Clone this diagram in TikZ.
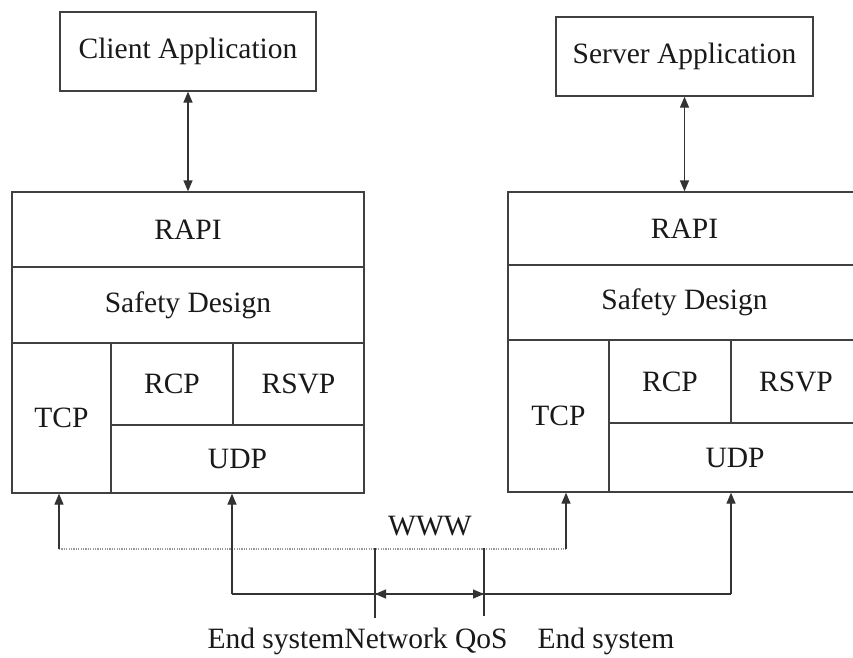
\documentclass[tikz,border=0pt]{standalone}
\usepackage{fontspec}
\setmainfont{Liberation Serif}
\usetikzlibrary{arrows.meta}
\begin{document}
\begin{tikzpicture}[x=1pt,y=-1pt,
  lbl/.style={font=\fontsize{29.5}{31}\selectfont, text=black!90},
  cell/.style={draw=black!75, line width=1.3pt, rectangle, inner sep=0pt, lbl},
  conn/.style={draw=black!80, line width=1.3pt},
  tip/.style={-{Triangle[length=11pt,width=9pt]}},
  dtip/.style={{Triangle[length=11pt,width=9pt]}-{Triangle[length=11pt,width=9pt]}},
  dots/.style={draw=black!40, line width=1.8pt, dash pattern=on 1.2pt off 1.2pt}]
\useasboundingbox (0,0) rectangle (853,657);
\fill[white] (0,0) rectangle (853,657);
\clip (0,0) rectangle (853,657);

% application boxes
\node[cell, minimum width=256pt, minimum height=79pt] (capp) at (188,51.5) {Client Application};
\node[cell, minimum width=257pt, minimum height=79pt] (sapp) at (684.5,56.5) {Server Application};

% left stack
\node[cell, minimum width=352pt, minimum height=75pt] (lrapi) at (188,229.5) {RAPI};
\node[cell, minimum width=352pt, minimum height=76pt] (lsafe) at (188,305) {Safety Design};
\node[cell, minimum width=99pt, minimum height=150pt] (ltcp) at (61.5,418) {TCP};
\node[cell, minimum width=122pt, minimum height=82pt] (lrcp) at (172,384) {RCP};
\node[cell, minimum width=131pt, minimum height=82pt] (lrsvp) at (298.5,384) {RSVP};
\node[cell, minimum width=253pt, minimum height=68pt] (ludp) at (237.5,459) {UDP};

% right stack
\node[cell, minimum width=353pt, minimum height=73pt] (rrapi) at (684.5,228.5) {RAPI};
\node[cell, minimum width=353pt, minimum height=75pt] (rsafe) at (684.5,302.5) {Safety Design};
\node[cell, minimum width=101pt, minimum height=152pt] (rtcp) at (558.5,416) {TCP};
\node[cell, minimum width=122pt, minimum height=83pt] (rrcp) at (670,381.5) {RCP};
\node[cell, minimum width=130pt, minimum height=83pt] (rrsvp) at (796,381.5) {RSVP};
\node[cell, minimum width=252pt, minimum height=69pt] (rudp) at (735,457.5) {UDP};

% app <-> RAPI
\draw[conn, dtip] (capp.south) -- (lrapi.north);
\draw[conn, dtip] (sapp.south) -- (rrapi.north);

% bottom connection points
\coordinate (d1) at (59,549);
\coordinate (d2) at (566,549);
\coordinate (s1) at (232,594);
\coordinate (s2) at (731,594);
\coordinate (t1a) at (375,548);
\coordinate (t1b) at (375,618);
\coordinate (t2a) at (484,548);
\coordinate (t2b) at (484,616);
\coordinate (t1) at (375,594);
\coordinate (t2) at (484,594);

\draw[dots] (d1) -- (d2);
\draw[conn, tip] (d1) -- (d1 |- ltcp.south);
\draw[conn, tip] (d2) -- (d2 |- rtcp.south);
\draw[conn, tip] (s1) -- (s1 |- ludp.south);
\draw[conn, tip] (s2) -- (s2 |- rudp.south);
\draw[conn] (s1) -- (s2);
\draw[conn] (t1a) -- (t1b);
\draw[conn] (t2a) -- (t2b);
\draw[conn, dtip] (t1) -- (t2);

% labels
\node[lbl] (www) at (430,526) {WWW};
\node[lbl] (es1) at (276,641) {End system};
\node[lbl] (nq) at (426,641) {Network QoS};
\node[lbl] (es2) at (606,641) {End system};
\end{tikzpicture}
\end{document}
